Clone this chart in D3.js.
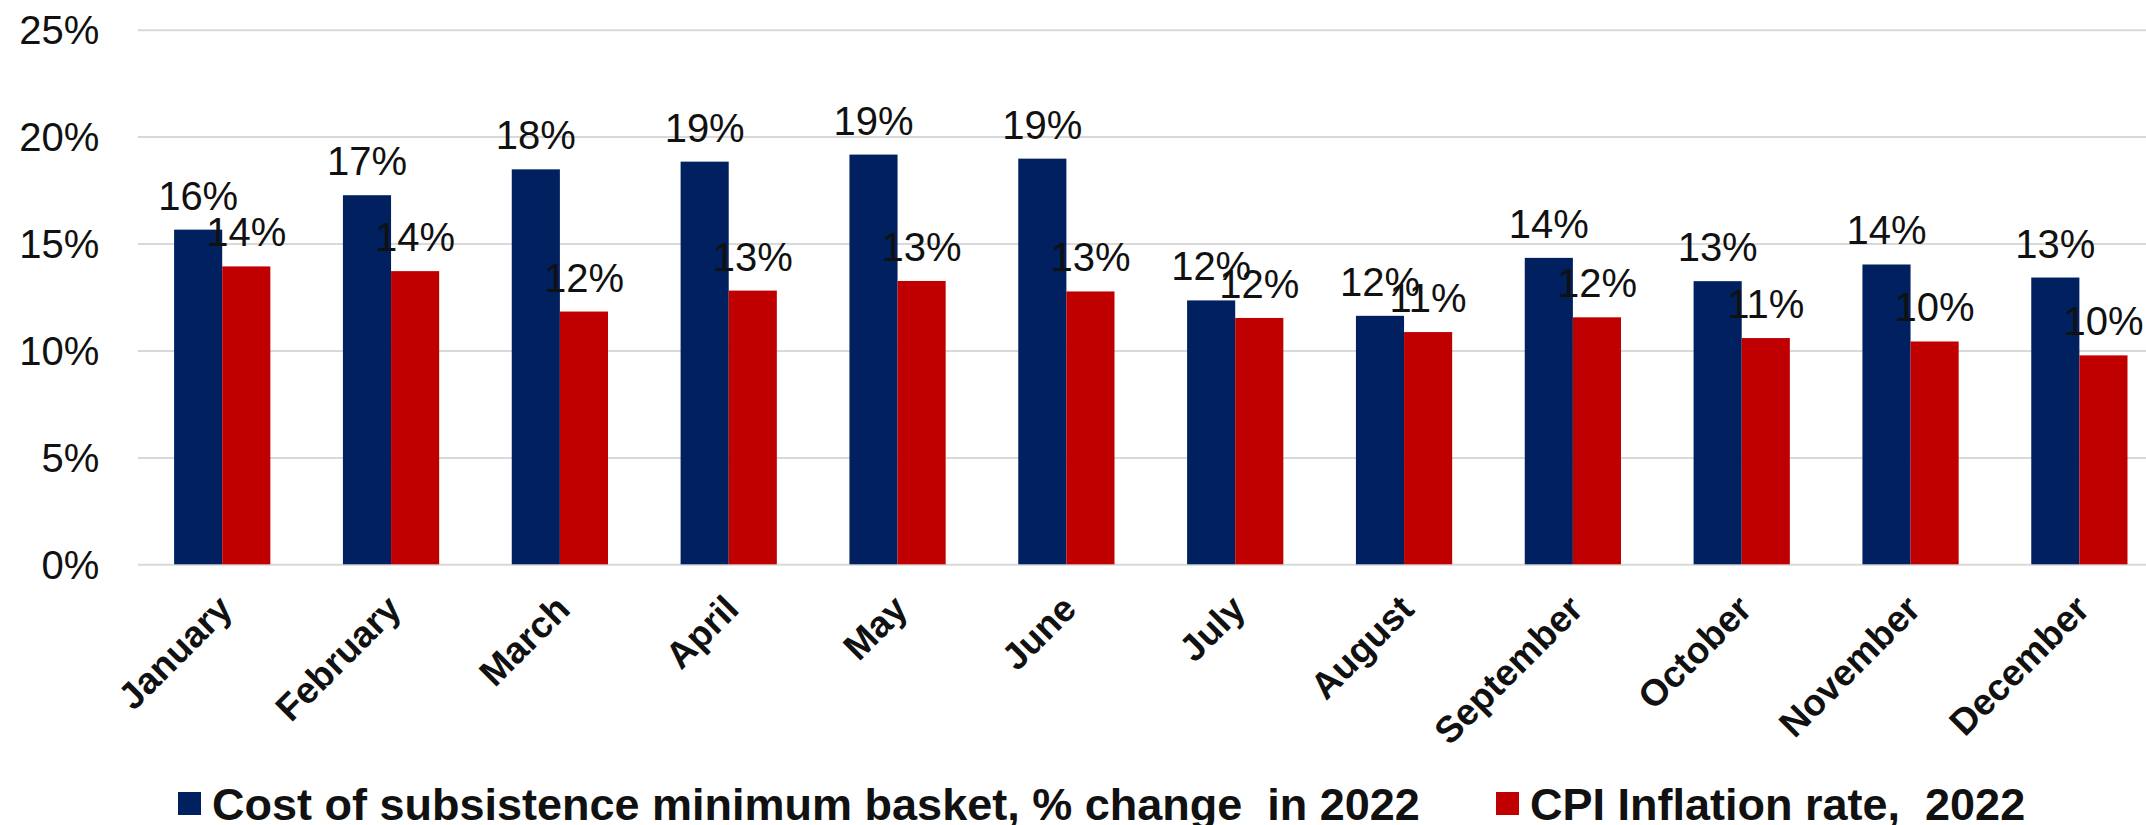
<!DOCTYPE html>
<html>
<head>
<meta charset="utf-8">
<script src="https://cdn.jsdelivr.net/npm/d3@7"></script>
<style>
  html, body { margin: 0; padding: 0; background: #ffffff; }
  svg { display: block; }
  text { font-family: "Liberation Sans", Arial, Helvetica, sans-serif; }
</style>
</head>
<body>
<svg id="chart" width="2146" height="825"></svg>
<script>
const months = ["January","February","March","April","May","June","July","August","September","October","November","December"];
const basketValues = [15.65, 17.26, 18.47, 18.83, 19.16, 18.97, 12.34, 11.62, 14.33, 13.24, 14.02, 13.41];
const cpiValues    = [13.93, 13.71, 11.82, 12.80, 13.25, 12.76, 11.52, 10.86, 11.55, 10.58, 10.42, 9.77];
const seriesNames  = ["Cost of subsistence minimum basket, % change  in 2022", "CPI Inflation rate,  2022"];
const seriesColors = ["#002060", "#C00000"];
const yTickValues  = [0, 5, 10, 15, 20, 25];

(function () {
const W = 2146;
const plotLeft = 137.8, plotRight = 2163.8, plotTop = 29.7, plotBottom = 564.3;
const svg = d3.select("#chart");

const x0 = d3.scaleBand().domain(months).range([plotLeft, plotRight]).paddingInner(0.43).paddingOuter(0.215);
const x1 = d3.scaleBand().domain([0, 1]).range([0, x0.bandwidth()]).padding(0);
const y = d3.scaleLinear().domain([0, 25]).range([plotBottom, plotTop]);
const color = d3.scaleOrdinal().domain([0, 1]).range(seriesColors);

// Gridlines + y labels
const yAxis = svg.append("g")
  .attr("transform", `translate(${plotLeft},0)`)
  .call(d3.axisLeft(y).tickValues(yTickValues).tickSize(-(W - plotLeft)).tickPadding(38.5).tickFormat(d => d + "%"));
yAxis.select(".domain").remove();
yAxis.selectAll(".tick line").attr("stroke", "#d9d9d9").attr("stroke-width", 2);
yAxis.selectAll(".tick text")
  .attr("font-size", 40).attr("fill", "#111111").attr("dy", "0.35em")
  .style("font-family", '"Liberation Sans", Arial, sans-serif');

const rows = months.map((m, i) => ({ month: m, values: [basketValues[i], cpiValues[i]] }));

const groups = svg.append("g").selectAll("g")
  .data(rows).join("g")
  .attr("transform", d => `translate(${x0(d.month)},0)`);

groups.selectAll("rect")
  .data(d => d.values.map((v, k) => ({ k, v })))
  .join("rect")
  .attr("x", d => x1(d.k))
  .attr("width", x1.bandwidth())
  .attr("y", d => y(d.v))
  .attr("height", d => y(0) - y(d.v))
  .attr("fill", d => color(d.k));

groups.selectAll("text.lbl")
  .data(d => d.values.map((v, k) => ({ k, v })))
  .join("text")
  .attr("class", "lbl")
  .attr("x", d => x1(d.k) + x1.bandwidth() / 2)
  .attr("y", d => y(d.v) - 20)
  .attr("text-anchor", "middle")
  .attr("font-size", 40)
  .attr("fill", "#111111")
  .text(d => Math.round(d.v) + "%");

// X axis labels
const xAxis = svg.append("g")
  .attr("transform", `translate(0,${plotBottom})`)
  .call(d3.axisBottom(x0).tickSize(0));
xAxis.select(".domain").remove();
xAxis.selectAll(".tick text")
  .attr("x", 0).attr("y", 0).attr("dy", 0)
  .attr("transform", "translate(12,47) rotate(-45)")
  .attr("text-anchor", "end")
  .attr("font-size", 37)
  .attr("font-weight", "bold")
  .attr("fill", "#111111")
  .style("font-family", '"Liberation Sans", Arial, sans-serif');

// Legend
const legendX = [178, 1496];
const legend = svg.append("g").selectAll("g")
  .data(seriesNames).join("g")
  .attr("transform", (d, i) => `translate(${legendX[i]},792)`);
legend.append("rect").attr("width", 23).attr("height", 23).attr("fill", (d, i) => seriesColors[i]);
legend.append("text")
  .attr("x", 34).attr("y", 27.5)
  .attr("font-size", 45).attr("font-weight", "bold").attr("fill", "#111111")
  .style("white-space", "pre")
  .text(d => d);
})();
</script>
</body>
</html>
